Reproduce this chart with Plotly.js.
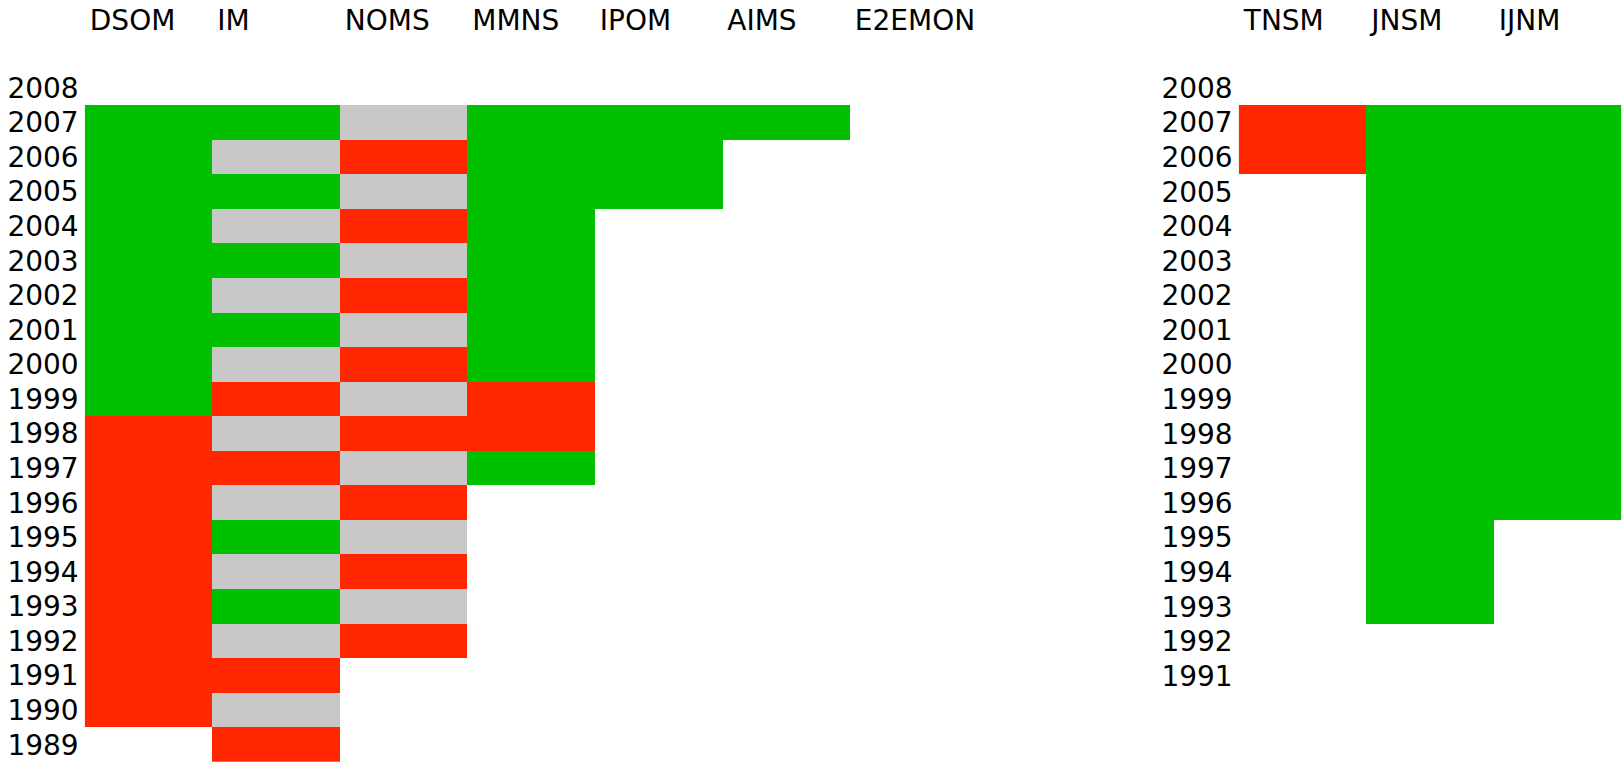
<!DOCTYPE html>
<html>
<head>
<meta charset="utf-8">
<script src="https://cdn.plot.ly/plotly-3.0.1.min.js"></script>
<style>html,body{margin:0;padding:0;background:#fff;}#chart{width:1623px;height:765px;}</style>
</head>
<body>
<div id="chart"></div>
<script>
// ---- data ----
// codes: "G" = green, "R" = red, "S" = grey, null = no cell
var confYears = ["1989","1990","1991","1992","1993","1994","1995","1996","1997","1998","1999","2000","2001","2002","2003","2004","2005","2006","2007","2008"];
var conferences = ["DSOM","IM","NOMS","MMNS","IPOM","AIMS","E2EMON"];
//            1989 1990 1991 1992 1993 1994 1995 1996 1997 1998 1999 2000 2001 2002 2003 2004 2005 2006 2007 2008
var DSOM   = [null,"R", "R", "R", "R", "R", "R", "R", "R", "R", "G", "G", "G", "G", "G", "G", "G", "G", "G", null];
var IM     = ["R", "S", "R", "S", "G", "S", "G", "S", "R", "S", "R", "S", "G", "S", "G", "S", "G", "S", "G", null];
var NOMS   = [null,null,null,"R", "S", "R", "S", "R", "S", "R", "S", "R", "S", "R", "S", "R", "S", "R", "S", null];
var MMNS   = [null,null,null,null,null,null,null,null,"G", "R", "R", "G", "G", "G", "G", "G", "G", "G", "G", null];
var IPOM   = [null,null,null,null,null,null,null,null,null,null,null,null,null,null,null,null,"G", "G", "G", null];
var AIMS   = [null,null,null,null,null,null,null,null,null,null,null,null,null,null,null,null,null,null,"G", null];
var E2EMON = [null,null,null,null,null,null,null,null,null,null,null,null,null,null,null,null,null,null,null,null];

var journalYears = ["1991","1992","1993","1994","1995","1996","1997","1998","1999","2000","2001","2002","2003","2004","2005","2006","2007","2008"];
var journals = ["TNSM","JNSM","IJNM"];
//            1991 1992 1993 1994 1995 1996 1997 1998 1999 2000 2001 2002 2003 2004 2005 2006 2007 2008
var TNSM   = [null,null,null,null,null,null,null,null,null,null,null,null,null,null,null,"R", "R", null];
var JNSM   = [null,null,"G", "G", "G", "G", "G", "G", "G", "G", "G", "G", "G", "G", "G", "G", "G", null];
var IJNM   = [null,null,null,null,null,"G", "G", "G", "G", "G", "G", "G", "G", "G", "G", "G", "G", null];

// ---- styling ----
var codeValue = {"S": 0, "R": 1, "G": 2};
var GREY = "#c8c8c8", RED = "#ff2600", GREEN = "#00c000";
var colorscale = [[0, GREY], [0.3333, GREY], [0.3333, RED], [0.6667, RED], [0.6667, GREEN], [1, GREEN]];
var FONT = "DejaVu Sans, Verdana, sans-serif";
var FS = 28;

function buildZ(series, nYears) {
  var z = [];
  for (var i = 0; i < nYears; i++) {
    var row = [];
    for (var j = 0; j < series.length; j++) {
      var c = series[j][i];
      row.push(c === null ? null : codeValue[c]);
    }
    z.push(row);
  }
  return z;
}

var confZ = buildZ([DSOM, IM, NOMS, MMNS, IPOM, AIMS, E2EMON], confYears.length);
var journalZ = buildZ([TNSM, JNSM, IJNM], journalYears.length);

// column labels sit just inside the left edge of each category cell
function leftEdges(names) { return names.map(function (_, i) { return i - 0.46; }); }

var traces = [
  {type: "heatmap", x: conferences, y: confYears, z: confZ, zmin: 0, zmax: 2,
   colorscale: colorscale, showscale: false, hoverongaps: false, xaxis: "x", yaxis: "y"},
  {type: "heatmap", x: journals, y: journalYears, z: journalZ, zmin: 0, zmax: 2,
   colorscale: colorscale, showscale: false, hoverongaps: false, xaxis: "x2", yaxis: "y2"}
];

var W = 1623, H = 765;
var colW = 127.5;
var xAxisCommon = {
  type: "category", side: "top", showgrid: false, zeroline: false, showline: false,
  ticks: "", ticklabelposition: "outside right", tickmode: "array",
  ticklabelstandoff: 34, tickfont: {family: FONT, size: FS, color: "#000"}, fixedrange: true
};
var yAxisCommon = {
  type: "category", showgrid: false, zeroline: false, showline: false, ticks: "",
  ticklabelstandoff: 5, tickfont: {family: FONT, size: FS, color: "#000"}, fixedrange: true
};

var layout = {
  width: W, height: H,
  margin: {l: 0, r: 0, t: 0, b: 0},
  paper_bgcolor: "#fff", plot_bgcolor: "#fff",
  showlegend: false,
  xaxis: Object.assign({}, xAxisCommon, {domain: [84.7 / W, (84.7 + 7 * colW) / W], anchor: "y",
    categoryorder: "array", categoryarray: conferences,
    tickvals: leftEdges(conferences), ticktext: conferences}),
  yaxis: Object.assign({}, yAxisCommon, {domain: [1 - 762 / H, 1 - 70.7 / H], anchor: "x",
    categoryorder: "array", categoryarray: confYears}),
  xaxis2: Object.assign({}, xAxisCommon, {domain: [1238.7 / W, (1238.7 + 3 * colW) / W], anchor: "y2",
    categoryorder: "array", categoryarray: journals,
    tickvals: leftEdges(journals), ticktext: journals}),
  yaxis2: Object.assign({}, yAxisCommon, {domain: [1 - (70.7 + 18 * 34.58) / H, 1 - 70.7 / H], anchor: "x2",
    categoryorder: "array", categoryarray: journalYears})
};

Plotly.newPlot("chart", traces, layout, {displayModeBar: false, staticPlot: true});
</script>
</body>
</html>
